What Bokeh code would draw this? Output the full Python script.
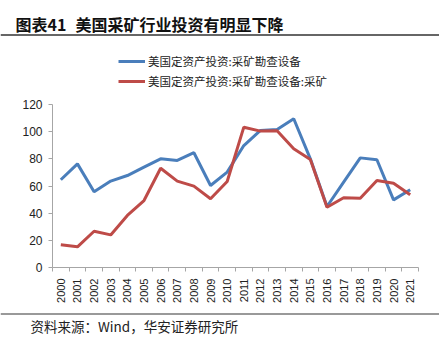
import math
from bokeh.plotting import figure
from bokeh.layouts import column
from bokeh.models import (Range1d, FixedTicker, Legend, LegendItem, Span)
from bokeh.core.properties import value
from bokeh.embed import file_html
from bokeh.resources import INLINE

years = [str(y) for y in range(2000, 2022)]
equip = [64.6, 76.3, 55.7, 63.6, 67.7, 73.9, 80.0, 78.8, 84.5, 60.4, 70.2,
         89.8, 100.9, 101.6, 109.5, 80.0, 44.9, 62.8, 80.7, 79.3, 49.8, 57.2]
mining = [16.7, 15.2, 26.7, 24.0, 38.3, 49.3, 73.1, 63.6, 59.9, 50.6, 63.3,
          103.3, 100.4, 100.6, 87.4, 79.5, 44.4, 51.3, 51.0, 64.1, 62.1, 53.5]
series_names = ["美国定资产投资:采矿勘查设备", "美国定资产投资:采矿勘查设备:采矿"]
series_colors = ["#4A7EBB", "#BE4B48"]
title_num = "图表41"
title_text = "美国采矿行业投资有明显下降"
source_text = "资料来源：Wind，华安证券研究所"
y_ticks = [0, 20, 40, 60, 80, 100, 120]

W = 439
TOP_H, MAIN_H, BOT_H = 95, 213, 40
CJK = "Noto Sans CJK SC"
xs = list(range(len(years)))


def no_align(f):
    if "frame_align" in f.properties():
        f.frame_align = False
    return f


def bare(h):
    f = figure(width=W, height=h, output_backend="svg", toolbar_location=None,
               x_range=Range1d(0, W), y_range=Range1d(0, h),
               min_border=0, x_axis_type=None, y_axis_type=None)
    f.outline_line_color = None
    f.grid.grid_line_color = None
    return no_align(f)


# ---- header: title, rule, legend
top = bare(TOP_H)
top.text(x=[15], y=[TOP_H - 23], text=[title_num], text_font=value(CJK),
         text_font_size="16px", text_font_style="bold", text_color="#111111",
         text_baseline="middle")
top.text(x=[75], y=[TOP_H - 23], text=[title_text], text_font=value(CJK),
         text_font_size="16px", text_font_style="bold", text_color="#111111",
         text_baseline="middle")
top.add_layout(Span(location=TOP_H - 34.5, dimension="width",
                    line_color="#333333", line_width=1.5))
# legend renderers: same series on a hidden range so only the legend shows
top.extra_y_ranges = {"hidden": Range1d(1000, 2000)}
top.extra_x_ranges = {"hidden": Range1d(1000, 2000)}
l1 = top.line(xs, equip, line_color=series_colors[0], line_width=3,
              x_range_name="hidden", y_range_name="hidden")
l2 = top.line(xs, mining, line_color=series_colors[1], line_width=3,
              x_range_name="hidden", y_range_name="hidden")
legend = Legend(items=[LegendItem(label=series_names[0], renderers=[l1]),
                       LegendItem(label=series_names[1], renderers=[l2])],
                location=(118, TOP_H - 91), orientation="vertical",
                label_text_font=CJK, label_text_font_size="11.5px",
                label_text_color="#222222", glyph_width=27, glyph_height=20,
                label_height=20, spacing=0, padding=0, margin=0,
                label_standoff=3, border_line_color=None,
                background_fill_alpha=0)
top.add_layout(legend, "center")

# ---- main chart
p = figure(width=W, height=MAIN_H, output_backend="svg", toolbar_location=None,
           x_range=Range1d(-0.5, len(years) - 0.5), y_range=Range1d(0, 120),
           min_border_left=52, min_border_right=21,
           min_border_top=9, min_border_bottom=41)
no_align(p)
p.outline_line_color = None
p.grid.grid_line_color = None

p.line(xs, equip, line_color=series_colors[0], line_width=3)
p.line(xs, mining, line_color=series_colors[1], line_width=3)

ax = p.xaxis[0]
ax.ticker = FixedTicker(ticks=xs, minor_ticks=[i - 0.5 for i in range(len(years) + 1)])
ax.major_label_overrides = {i: y for i, y in enumerate(years)}
ax.major_label_orientation = math.pi / 2
ax.major_tick_line_color = None
ax.minor_tick_in = 0
ax.minor_tick_out = 4
ax.minor_tick_line_color = "#A6A6A6"
ax.axis_line_color = "#A6A6A6"
ax.major_label_text_font = "Liberation Sans"
ax.major_label_text_font_size = "11px"
ax.major_label_text_color = "#222222"
ax.major_label_standoff = 5

ay = p.yaxis[0]
ay.ticker = FixedTicker(ticks=y_ticks)
ay.minor_tick_line_color = None
ay.major_tick_in = 0
ay.major_tick_out = 4
ay.major_tick_line_color = "#A6A6A6"
ay.axis_line_color = "#A6A6A6"
ay.major_label_text_font = "Liberation Sans"
ay.major_label_text_font_size = "12px"
ay.major_label_text_color = "#222222"
ay.major_label_standoff = 6

# ---- footer: rule and source
bot = bare(BOT_H)
bot.add_layout(Span(location=BOT_H - 5.5, dimension="width",
                    line_color="#777777", line_width=1.5))
bot.text(x=[30], y=[BOT_H - 17], text=[source_text], text_font=value(CJK),
         text_font_size="13.5px", text_color="#222222", text_baseline="middle")

layout = column(top, p, bot, spacing=0)
open("out.html", "w").write(file_html(layout, INLINE))
